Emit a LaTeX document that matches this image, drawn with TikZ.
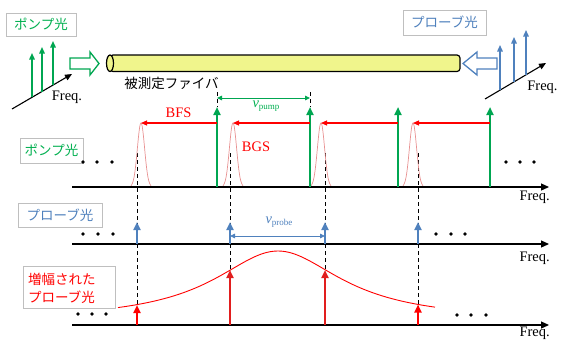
\documentclass[tikz,border=0pt]{standalone}
\usepackage{fontspec}
\setmainfont{Liberation Serif}
\newfontfamily\jpfont{Noto Sans CJK JP}
\usetikzlibrary{arrows.meta}
\definecolor{pgreen}{RGB}{0,166,81}
\definecolor{tgreen}{RGB}{0,176,80}
\definecolor{pblue}{RGB}{79,129,189}
\definecolor{pred}{RGB}{255,0,0}
\definecolor{dred}{RGB}{225,30,30}
\definecolor{pink}{RGB}{232,145,145}
\definecolor{fib}{RGB}{240,245,140}
\definecolor{boxgray}{RGB}{191,191,191}
\begin{document}
\begin{tikzpicture}[x=1pt,y=-1pt,
  jp/.style={font=\jpfont\fontsize{13.5}{18}\selectfont, inner sep=0pt},
  lat/.style={font=\fontsize{14.5}{16}\selectfont, inner sep=0pt},
  lblbox/.style={draw=boxgray, fill=white, line width=0.6pt, inner sep=0pt},
  axisline/.style={line width=1.2pt, -{Triangle[width=7pt,length=8pt]}},
  bigarrow/.style={line width=2pt, -{Triangle[width=7pt,length=8pt]}},
  smallarrow/.style={line width=1.1pt, -{Triangle[width=5pt,length=6pt]}},
  dimarrow/.style={line width=0.9pt, {Triangle[width=4.5pt,length=5pt]}-{Triangle[width=4.5pt,length=5pt]}},
  dashline/.style={line width=0.8pt, dash pattern=on 4pt off 3pt},
  dot/.style={circle, fill=black, inner sep=0pt, minimum size=3.8pt}
]
\useasboundingbox (0,0) rectangle (561,341);

% ---------- top part ----------
% fiber
\draw[fill=fib, line width=1.2pt, rounded corners=3pt] (110,55) rectangle (460,71.5);
\draw[fill=fib, line width=1.2pt] (110,63.25) ellipse (3.5pt and 8.25pt);
\node[jp, anchor=center] (fibre) at (171.5,83) {被測定ファイバ};

% hollow arrows
\draw[pgreen, fill=white, line width=1.3pt, line join=miter]
  (70,58) -- (90,58) -- (90,52) -- (99,63.5) -- (90,75) -- (90,69) -- (70,69) -- cycle;
\draw[pblue, fill=white, line width=1.3pt, line join=miter]
  (497,58) -- (477,58) -- (477,52) -- (463,63.5) -- (477,75) -- (477,69) -- (497,69) -- cycle;

% top-left pump spectrum
\coordinate (tlA) at (12,109);
\coordinate (tlB) at (72,74);
\draw[line width=1.1pt, -{Triangle[width=6pt,length=7pt]}] (tlA) -- (tlB);
\foreach \x/\yb/\yt in {32/97.3/53, 42/91.5/47, 53/85/41}
  \draw[pgreen, line width=1.4pt, -{Triangle[width=5.5pt,length=6.5pt]}] (\x,\yb) -- (\x,\yt);
\node[lat] (fq1) at (67,97) {Freq.};
\node[lblbox, minimum width=70pt, minimum height=23pt] (pumpTop) at (41,24.5) {};
\node[jp, text=tgreen] at (pumpTop) {ポンプ光};

% top-right probe spectrum
\coordinate (trA) at (485,99);
\coordinate (trB) at (546,63);
\draw[line width=1.1pt, -{Triangle[width=6pt,length=7pt]}] (trA) -- (trB);
\foreach \x/\yb/\yt in {500/90.2/45, 514/82/37, 526/75/30}
  \draw[pblue, line width=1.4pt, -{Triangle[width=5.5pt,length=6.5pt]}] (\x,\yb) -- (\x,\yt);
\node[lat] (fq2) at (542.5,87) {Freq.};
\node[lblbox, minimum width=83pt, minimum height=25pt] (probeTop) at (444.5,22.5) {};
\node[jp, text=pblue] at (probeTop) {プローブ光};

% ---------- dashed guide lines ----------
\foreach \x in {217,310}
  \draw[dashline] (\x,92) -- (\x,107);
\foreach \x/\yb in {137/305, 230/270, 325/270, 418/304.5}
  \draw[dashline] (\x,153) -- (\x,\yb);

% ---------- pump row ----------
\coordinate (ax1s) at (72,187);
\coordinate (ax1e) at (549,187);
\draw[axisline] (ax1s) -- (ax1e);
\node[lat, anchor=east] (fq3) at (550,197) {Freq.};
\node[lblbox, minimum width=63pt, minimum height=25pt] (pumpRow) at (51.5,150.5) {};
\node[jp, text=tgreen] at (pumpRow) {ポンプ光};
\foreach \x in {83,97,112} \node[dot] at (\x,162) {};
\foreach \x in {506,520,534} \node[dot] at (\x,162) {};

% BGS peaks
\foreach \c in {141,233,321,413}
  \draw[pink, line width=0.7pt, domain=-10:10, samples=60, smooth]
    plot ({\c+\x}, {187-64*exp(-(\x/3.6)^2/2)});

% pump lines and BFS arrows
\foreach \p/\c in {217/141, 310/233, 398/321, 490/413} {
  \draw[bigarrow, pgreen] (\p,187) -- (\p,107);
  \draw[smallarrow, pred] (\p,123) -- (\c,123);
}
\draw[dimarrow, pgreen] (217,98) -- (310,98);
\node[font=\fontsize{14.5}{16}\selectfont, text=tgreen, inner sep=0pt] (nupump) at (266,106)
  {\textit{ν}\raisebox{-0.35ex}{\fontsize{9}{10}\selectfont pump}};
\node[lat, text=pred] (bfs) at (178.5,113) {BFS};
\node[lat, text=pred] (bgs) at (256,147) {BGS};

% ---------- probe row ----------
\coordinate (ax2s) at (72,244);
\coordinate (ax2e) at (549,244);
\draw[axisline] (ax2s) -- (ax2e);
\node[lat, anchor=east] (fq4) at (550,258) {Freq.};
\node[lblbox, minimum width=84pt, minimum height=24pt] (probeRow) at (60,215) {};
\node[jp, text=pblue] at (probeRow) {プローブ光};
\foreach \x in {83,98,113} \node[dot] at (\x,234) {};
\foreach \x in {436,451,465} \node[dot] at (\x,234) {};
\foreach \x in {137,230,325,418}
  \draw[bigarrow, pblue] (\x,244) -- (\x,222);
\draw[dimarrow, pblue] (230,236) -- (325,236);
\node[font=\fontsize{14.5}{16}\selectfont, text=pblue, inner sep=0pt] (nuprobe) at (279,222)
  {\textit{ν}\raisebox{-0.35ex}{\fontsize{9}{10}\selectfont probe}};

% ---------- amplified probe row ----------
\coordinate (ax3s) at (72,325);
\coordinate (ax3e) at (549,325);
\draw[axisline] (ax3s) -- (ax3e);
\node[lat, anchor=east] (fq5) at (550,333.5) {Freq.};
\node[lblbox, minimum width=92pt, minimum height=42pt] (ampRow) at (69,287) {};
\node[jp, text=pred, align=left, anchor=west] at (28,288) {増幅された\\プローブ光};
\foreach \x in {78,92,106} \node[dot] at (\x,314) {};
\foreach \x in {457,471,486} \node[dot] at (\x,315) {};
\draw[pred, line width=0.9pt, domain=118:435, samples=120, smooth]
  plot (\x, {321-70/(1+((\x-278)/78)^2)});
\foreach \x/\yt in {137/305, 418/304.5}
  \draw[bigarrow, pred] (\x,325) -- (\x,\yt);
\foreach \x/\yt in {230/270, 325/270}
  \draw[bigarrow, dred] (\x,325) -- (\x,\yt);
\end{tikzpicture}
\end{document}
